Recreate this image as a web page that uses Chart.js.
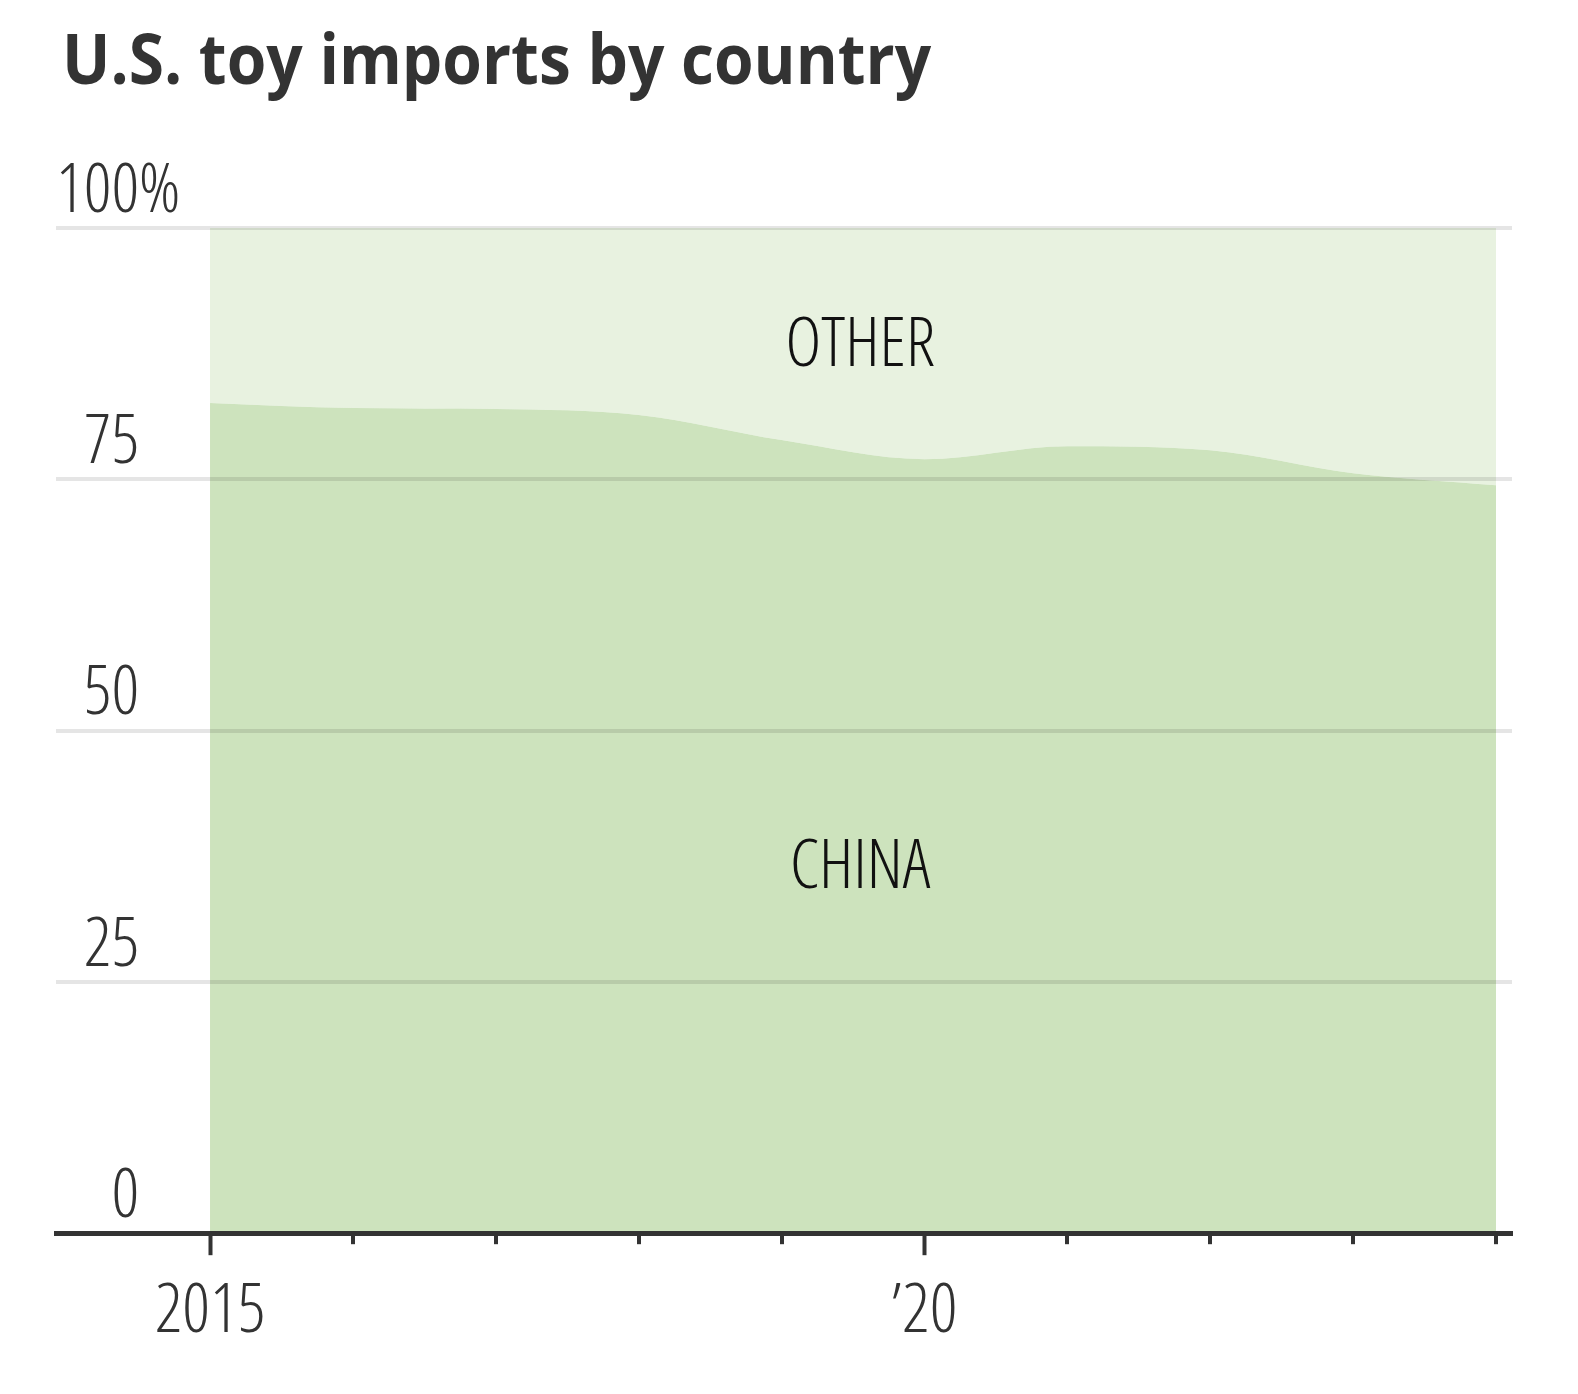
<!DOCTYPE html>
<html>
<head>
<meta charset="utf-8">
<script src="https://cdn.jsdelivr.net/npm/chart.js@4"></script>
<style>
  body { margin: 0; background: #fff; }
  #wrap { position: relative; width: 1578px; height: 1394px; }
  #title {
    position: absolute; left: 62px; top: 22px; margin: 0;
    font-family: "Open Sans", "Noto Sans", sans-serif; font-weight: 700;
    font-size: 70px; line-height: 70px; color: #333; white-space: nowrap;
    transform: scaleX(0.915); transform-origin: left top;
  }
  canvas { position: absolute; left: 0; top: 0; }
</style>
</head>
<body>
<div id="wrap">
  <h1 id="title">U.S. toy imports by country</h1>
  <canvas id="chart" width="1578" height="1394"></canvas>
</div>
<script>
// Datos (porcentaje de importaciones de juguetes)
const years = [2015, 2016, 2017, 2018, 2019, 2020, 2021, 2022, 2023, 2024];
const chinaShare = [82.6, 82.1, 82.0, 81.4, 78.9, 77.0, 78.3, 77.9, 75.6, 74.4];
const otherShare = [17.4, 17.9, 18.0, 18.6, 21.1, 23.0, 21.7, 22.1, 24.4, 25.6];
const yTicks = [0, 25, 50, 75, 100];
const majorYears = [2015, 2020];

const FONT = '"Open Sans", "Liberation Sans", sans-serif';
const WEIGHT = '300 condensed';
const SIZE = 68;
const FIG = '\u2007';

// Etiquetas dentro del área
const areaLabels = [
    { text: 'OTHER', x: 2019.55, y: 88.2 },
    { text: 'CHINA', x: 2019.55, y: 36.3 }
];

function yLabel(v) {
    if (v === 100) return ['100%', ''];
    const s = String(v);
    return [FIG.repeat(3 - s.length) + s, ''];
}

function xLabel(v) {
    if (v === 2015) return '2015';
    if (v === 2020) return '\u201920';
    return '';
}

// Plugin: marcas cortas del eje X y etiquetas de las áreas
const extrasPlugin = {
    id: 'extras',
    afterDraw(chart) {
        const ctx = chart.ctx;
        const xs = chart.scales.x;
        const ys = chart.scales.y;
        const bottom = chart.chartArea.bottom;
        ctx.save();
        ctx.strokeStyle = '#333';
        ctx.lineWidth = 4;
        years.forEach(yr => {
            if (majorYears.includes(yr)) return;
            const px = Math.round(xs.getPixelForValue(yr));
            ctx.beginPath();
            ctx.moveTo(px, bottom);
            ctx.lineTo(px, bottom + 11);
            ctx.stroke();
        });
        ctx.fillStyle = '#111';
        ctx.font = WEIGHT + ' ' + SIZE + 'px ' + FONT;
        ctx.textAlign = 'center';
        ctx.textBaseline = 'middle';
        areaLabels.forEach(l => {
            ctx.fillText(l.text, xs.getPixelForValue(l.x), ys.getPixelForValue(l.y));
        });
        ctx.restore();
    }
};

const ctx = document.getElementById('chart').getContext('2d');
new Chart(ctx, {
    type: 'line',
    data: {
        datasets: [
            {
                label: 'China',
                data: years.map((yr, i) => ({ x: yr, y: chinaShare[i] })),
                backgroundColor: '#cde3bd',
                borderWidth: 0,
                pointRadius: 0,
                fill: 'origin',
                cubicInterpolationMode: 'monotone'
            },
            {
                label: 'Other',
                data: years.map((yr, i) => ({ x: yr, y: otherShare[i] })),
                backgroundColor: '#e8f2e0',
                borderWidth: 0,
                pointRadius: 0,
                fill: '-1',
                cubicInterpolationMode: 'monotone'
            }
        ]
    },
    options: {
        responsive: false,
        animation: false,
        layout: { padding: { top: 228, left: 56, right: 66, bottom: 24 } },
        plugins: { legend: { display: false }, tooltip: { enabled: false } },
        scales: {
            x: {
                type: 'linear',
                min: 2013.922,
                max: 2024.112,
                afterBuildTicks: axis => { axis.ticks = years.map(v => ({ value: v })); },
                grid: {
                    z: 1,
                    drawOnChartArea: false,
                    drawTicks: true,
                    tickLength: 22,
                    tickWidth: 4,
                    tickColor: c => majorYears.includes(c.tick.value) ? '#333' : 'rgba(0,0,0,0)'
                },
                border: { display: true, color: '#333', width: 5, z: 1 },
                ticks: {
                    autoSkip: false,
                    maxRotation: 0,
                    padding: 20,
                    color: '#333',
                    font: { family: FONT, size: SIZE, weight: WEIGHT, lineHeight: 1.1 },
                    callback: v => xLabel(v)
                }
            },
            y: {
                stacked: true,
                min: 0,
                max: 100,
                afterBuildTicks: axis => { axis.ticks = yTicks.map(v => ({ value: v })); },
                grid: {
                    z: 1,
                    drawTicks: false,
                    tickLength: 0,
                    lineWidth: 4,
                    color: c => c.tick.value === 0 ? 'rgba(0,0,0,0)' : 'rgba(0,0,0,0.1)'
                },
                border: { display: false },
                ticks: {
                    mirror: true,
                    padding: 0,
                    color: '#333',
                    font: { family: FONT, size: SIZE, weight: WEIGHT, lineHeight: 1.05 },
                    callback: v => yLabel(v)
                }
            }
        }
    },
    plugins: [extrasPlugin]
});
</script>
</body>
</html>
